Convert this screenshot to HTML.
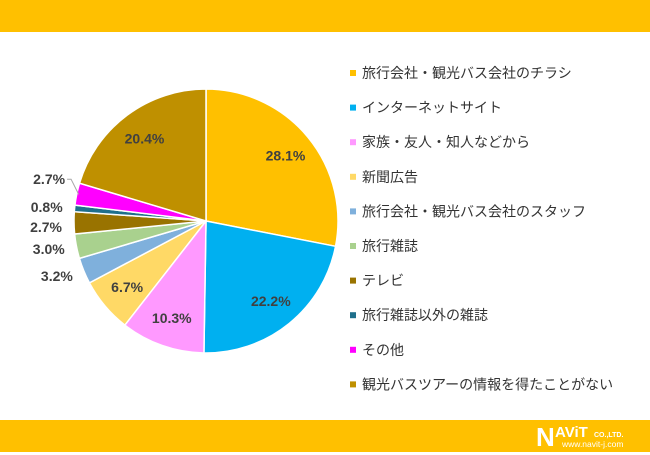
<!DOCTYPE html>
<html><head><meta charset="utf-8"><style>
body{margin:0;width:650px;height:455px;background:#fff;overflow:hidden;font-family:"Liberation Sans","Noto Sans CJK JP",sans-serif;}
svg{display:block}
</style></head><body>
<svg id="c" width="650" height="455">
<rect x="0" y="0" width="650" height="32" fill="#FFC000"/>
<rect x="0" y="420" width="650" height="32" fill="#FFC000"/>
<g>
<text x="536" y="446" font-size="26" font-weight="bold" fill="#fff" font-family="Liberation Sans, sans-serif">N</text>
<text x="555" y="437" font-size="15" font-weight="bold" fill="#fff">AViT</text>
<text x="594" y="437" font-size="7" font-weight="bold" fill="#fff">CO.,LTD.</text>
<text x="562" y="447" font-size="8.5" fill="#fff">www.navit-j.com</text>
</g>
<g id="pie"></g>
<g id="legend"></g>
</svg>
<script>
const categories=["旅行会社・観光バス会社のチラシ","インターネットサイト","家族・友人・知人などから","新聞広告","旅行会社・観光バス会社のスタッフ","旅行雑誌","テレビ","旅行雑誌以外の雑誌","その他","観光バスツアーの情報を得たことがない"];
const values=[28.1,22.2,10.3,6.7,3.2,3.0,2.7,0.8,2.7,20.4];
const labels=["28.1%","22.2%","10.3%","6.7%","3.2%","3.0%","2.7%","0.8%","2.7%","20.4%"];
const colors=["#FFC000","#00B0F0","#FF99FF","#FFD966","#7FB0DC","#A9D18E","#997300","#1F6F8B","#FF00FF","#BF9000"];
const NS="http://www.w3.org/2000/svg";
const cx=206,cy=221,r=132;
const total=values.reduce((a,b)=>a+b,0);
const pie=document.getElementById('pie');
const lg=document.getElementById('legend');
function pt(a,rad){return [cx+rad*Math.sin(a),cy-rad*Math.cos(a)];}
let cum=0;
values.forEach((v,i)=>{
  const a0=cum/total*2*Math.PI; cum+=v; const a1=cum/total*2*Math.PI;
  const p0=pt(a0,r),p1=pt(a1,r);
  const path=document.createElementNS(NS,'path');
  path.setAttribute('d',`M${cx},${cy}L${p0[0]},${p0[1]}A${r},${r} 0 ${a1-a0>Math.PI?1:0} 1 ${p1[0]},${p1[1]}Z`);
  path.setAttribute('fill',colors[i]);path.setAttribute('stroke','#fff');path.setAttribute('stroke-width','1.5');
  
  
  pie.appendChild(path);
  const am=(a0+a1)/2;
  const t=document.createElementNS(NS,'text');
  t.setAttribute('font-size','14');t.setAttribute('font-weight','bold');t.setAttribute('fill','#404040');
  if(v>=5){
    const p=pt(am,r*0.78);
    t.setAttribute('x',p[0]);t.setAttribute('y',p[1]+5);t.setAttribute('text-anchor','middle');
  } else {
    let p=pt(am,r+14);
    let y=p[1]+5;
    if(i===6) y+=4;
    if(i===8){y-=12;
      const l=document.createElementNS(NS,'polyline');
      const q=pt(am,r-2);
      l.setAttribute('points',`${p[0]+4},${y-5} ${p[0]+8},${y-5} ${q[0]},${q[1]}`);
      l.setAttribute('fill','none');l.setAttribute('stroke','#a6a6a6');l.setAttribute('stroke-width','1');
      
      
      pie.appendChild(l);}
    t.setAttribute('x',p[0]+2);t.setAttribute('y',y);t.setAttribute('text-anchor','end');
  }
  t.textContent=labels[i];
  
  
  pie.appendChild(t);
  const y=73+i*34.6;
  const m=document.createElementNS(NS,'rect');
  m.setAttribute('x',350);m.setAttribute('y',y-3);m.setAttribute('width',6);m.setAttribute('height',6);m.setAttribute('fill',colors[i]);
  
  
  lg.appendChild(m);
  const lt=document.createElementNS(NS,'text');
  lt.setAttribute('x',362);lt.setAttribute('y',y+5);lt.setAttribute('font-size','14');lt.setAttribute('fill','#333');
  lt.textContent=categories[i];
  
  
  lg.appendChild(lt);
});
</script>
</body></html>
